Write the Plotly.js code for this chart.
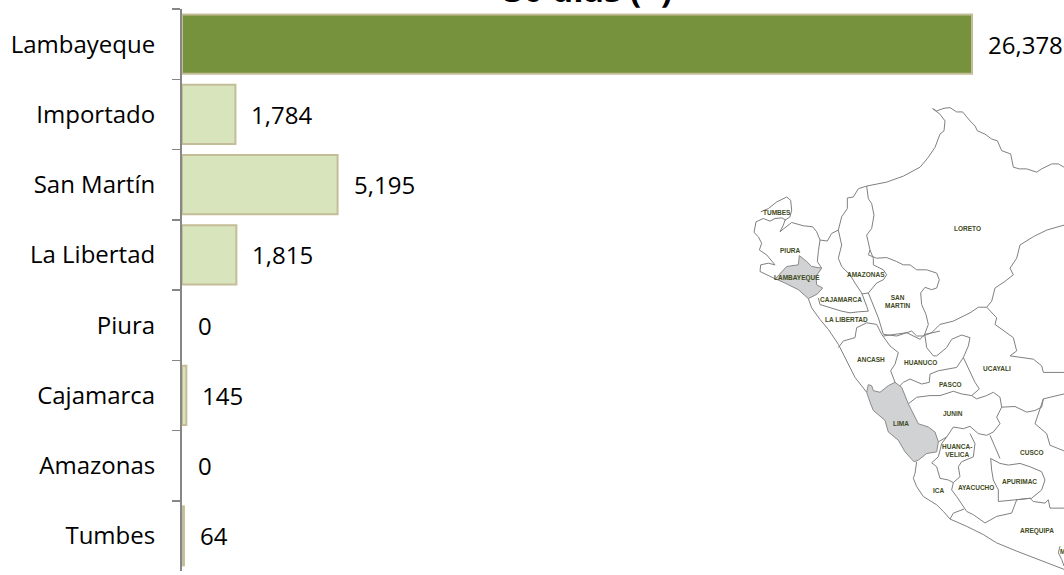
<!DOCTYPE html>
<html><head><meta charset="utf-8">
<script src="https://cdn.plot.ly/plotly-3.0.1.min.js"></script>
<style>html,body{margin:0;padding:0;background:#fff;overflow:hidden}</style></head>
<body><div id="chart" style="width:1064px;height:575px"></div>
<script>
const categories = ["Lambayeque","Importado","San Martín","La Libertad","Piura","Cajamarca","Amazonas","Tumbes"];
const cases = [26378,1784,5195,1815,0,145,0,64];
const titleText = "30 días (+)";

// Department outlines of the inset map
const limaOutline = [[380,915],[385,892],[395,895],[400,910],[420,915],[445,895],[465,885],[485,900],[505,950],[520,980],[535,1010],[565,1020],[585,1035],[595,1065],[590,1095],[560,1100],[535,1120],[522,1125],[495,1095],[475,1060],[445,1035],[435,1000],[400,970],[390,945],[380,915]];
const lambayequeOutline = [[178,502],[175,530],[140,535],[125,550],[106,572],[135,585],[175,605],[205,632],[232,618],[248,600],[230,590],[228,565],[245,540],[215,535],[200,520],[178,502]];
const borders = [
 [[578,58],[590,65],[612,57],[630,55],[650,68],[668,68],[690,95],[705,110],[712,125],[735,135],[755,150],[772,155],[785,185],[812,195],[820,235],[838,240],[860,240],[890,250],[905,240],[935,225],[955,225],[972,235]],
 [[578,58],[600,75],[615,95],[612,125],[600,135],[585,175],[565,205],[540,235],[490,262],[440,280],[380,292],[355,300],[340,325],[322,328],[322,360],[305,385],[295,425]],
 [[62,370],[85,360],[110,340],[140,325],[152,335],[155,365],[150,385],[135,395],[130,410],[120,430]],
 [[42,432],[48,400],[70,390],[90,398],[105,390],[125,388],[138,395]],
 [[42,432],[55,445],[65,465],[58,485],[80,500],[95,520],[105,530],[85,525],[62,530],[60,550],[80,560],[105,572]],
 [[120,430],[155,402],[190,412],[218,415],[230,430],[240,455],[235,490],[232,520],[245,540]],
 [[240,455],[262,458],[275,435],[295,425],[305,470],[295,510],[305,535],[330,560],[345,585],[365,615],[380,655],[385,670],[355,672],[330,675],[305,670],[270,660],[240,650],[235,630]],
 [[205,632],[215,660],[240,695],[265,725],[295,770],[320,820],[345,870],[380,915]],
 [[380,292],[385,330],[395,345],[402,380],[395,420],[380,440],[390,485],[385,500],[410,510],[440,508],[470,520],[490,530],[510,530],[530,545],[560,545],[590,555],[598,575],[590,600],[575,605],[555,598],[542,615],[545,650],[558,680],[565,710],[552,745]],
 [[390,485],[400,510],[400,530],[430,545],[440,560],[430,575],[410,585],[385,615],[365,618]],
 [[385,615],[400,650],[415,690],[430,740],[470,745],[515,730],[530,745],[550,745]],
 [[295,780],[310,760],[345,750],[350,720],[380,705],[410,710],[425,740]],
 [[425,740],[450,775],[475,795],[465,830],[452,850],[465,885]],
 [[430,745],[470,740],[500,735],[540,755],[555,740],[600,730]],
 [[555,745],[560,780],[580,805],[590,805],[620,780],[635,755],[665,742],[690,750],[685,775],[670,810],[650,840],[595,850],[570,860],[568,885],[545,890],[510,875],[490,885],[480,895]],
 [[670,810],[690,850],[705,885],[718,905],[695,925],[665,920],[640,912],[600,925],[570,925],[530,930],[505,950]],
 [[695,925],[710,935],[740,925],[760,915],[780,930],[785,960],[770,990],[780,1010],[760,1035],[740,1045],[715,1040],[690,1018],[670,1025],[640,1020],[620,1050],[595,1065]],
 [[530,1125],[525,1160],[520,1175],[530,1200],[550,1230],[590,1255],[610,1275],[630,1298]],
 [[620,1050],[605,1070],[595,1110],[575,1128],[590,1140],[600,1175],[625,1180],[640,1188],[660,1170],[655,1140],[665,1125],[700,1110],[705,1070],[690,1040]],
 [[640,1188],[635,1210],[650,1230],[670,1260],[680,1275],[700,1285],[735,1310],[770,1290],[815,1280],[830,1240],[870,1235]],
 [[672,1268],[640,1280],[630,1298]],
 [[752,1115],[780,1130],[805,1135],[840,1130],[870,1140],[905,1155],[915,1180],[905,1210],[875,1235],[830,1240],[775,1245],[775,1210],[760,1180],[755,1150],[752,1115]],
 [[750,1045],[770,1090],[780,1115]],
 [[870,1235],[880,1245],[915,1250],[925,1240],[930,1265],[972,1265]],
 [[785,960],[825,958],[860,975],[885,970],[905,960],[910,935],[972,920]],
 [[910,935],[895,980],[885,1010],[920,1040],[930,1075],[972,1092]],
 [[740,658],[770,690],[765,710],[800,735],[820,750],[830,790],[810,805],[880,815],[905,835],[910,855],[972,855]],
 [[972,410],[920,425],[880,445],[840,470],[830,510],[810,540],[820,560],[795,580],[765,600],[755,640],[740,658],[715,658],[690,675],[640,700],[600,710],[575,735],[550,745]],
 [[630,1298],[680,1320],[730,1345],[770,1370],[830,1395],[880,1415],[930,1435],[972,1450]],
 [[960,1380],[955,1400],[965,1420],[972,1440]]
];
const mapLabels = ["TUMBES","PIURA","LAMBAYEQUE","AMAZONAS","CAJAMARCA","SAN<br>MARTIN","LA LIBERTAD","LORETO","ANCASH","HUANUCO","UCAYALI","PASCO","JUNIN","LIMA","HUANCA-<br>VELICA","CUSCO","APURIMAC","ICA","AYACUCHO","AREQUIPA","M"];
const mapLabelX = [110,150,170,378,303,473,318,683,394,542,770,630,640,483,650,873,838,597,708,890,967];
const mapLabelY = [373,488,570,558,636,642,696,420,815,824,843,891,978,1010,1090,1098,1185,1213,1203,1333,1395];

const fmt = v => v.toLocaleString("en-US");
const barColors = cases.map((v,i)=> i===0 ? "#76923c" : "#d8e4bc");
const barLineWidths = cases.map(v=> v===0 ? 0 : 2);
const textFont = "Open Sans, sans-serif";

const traces = [{
  type:"bar", orientation:"h", y:categories, x:cases,
  marker:{color:barColors, line:{color:"#c4bd97", width:barLineWidths}}, hoverinfo:"skip"
}];
const toXY = pts => ({x:pts.map(p=>p[0]), y:pts.map(p=>p[1])});
[limaOutline, lambayequeOutline].forEach(o=>traces.push(Object.assign({
  type:"scatter", mode:"lines", xaxis:"x2", yaxis:"y2", fill:"toself", fillcolor:"#d1d2d4",
  line:{color:"#8a8a8a", width:1}, hoverinfo:"skip"}, toXY(o))));
borders.forEach(o=>traces.push(Object.assign({
  type:"scatter", mode:"lines", xaxis:"x2", yaxis:"y2",
  line:{color:"#808080", width:1}, hoverinfo:"skip"}, toXY(o))));

const annotations = cases.map((v,i)=>({
  x:v, y:categories[i], xref:"x", yref:"y", text:fmt(v), showarrow:false,
  xanchor:"left", xshift:14, font:{family:textFont, size:24, color:"#000"}
}));
mapLabels.forEach((t,i)=>annotations.push({
  x:mapLabelX[i], y:mapLabelY[i], xref:"x2", yref:"y2", text:"<b>"+t+"</b>", showarrow:false,
  font:{family:"Liberation Sans, Arial, sans-serif", size:6.5, color:"#414a1c"}, borderpad:0
}));
annotations.push({
  xref:"paper", x:0.4598, yref:"paper", y:1, yshift:-5, yanchor:"bottom", xanchor:"center",
  text:"<b>"+titleText+"</b>", showarrow:false,
  font:{family:textFont, size:34, color:"#000"}
});

const layout = {
  width:1064, height:575, showlegend:false, paper_bgcolor:"#fff", plot_bgcolor:"#fff",
  margin:{l:182, r:0, t:9, b:0}, bargap:0.16,
  xaxis:{range:[0,29449], domain:[0,1], visible:false, fixedrange:true},
  yaxis:{type:"category", autorange:"reversed", domain:[4/566,1], tickson:"boundaries",
    ticks:"outside", ticklen:8, tickwidth:1.5, tickcolor:"#868686",
    showline:true, linecolor:"#868686", linewidth:2, showgrid:false, zeroline:false,
    ticklabelstandoff:20, tickfont:{family:textFont, size:24, color:"#000"}},
  xaxis2:{overlaying:"x", range:[-1674,972], domain:[0,1], visible:false, fixedrange:true, anchor:"y2"},
  yaxis2:{overlaying:"y", range:[1455,-243], domain:[0,1], visible:false, fixedrange:true, anchor:"x2"},
  annotations
};
Plotly.newPlot("chart", traces, layout, {displayModeBar:false, staticPlot:true});
</script></body></html>
